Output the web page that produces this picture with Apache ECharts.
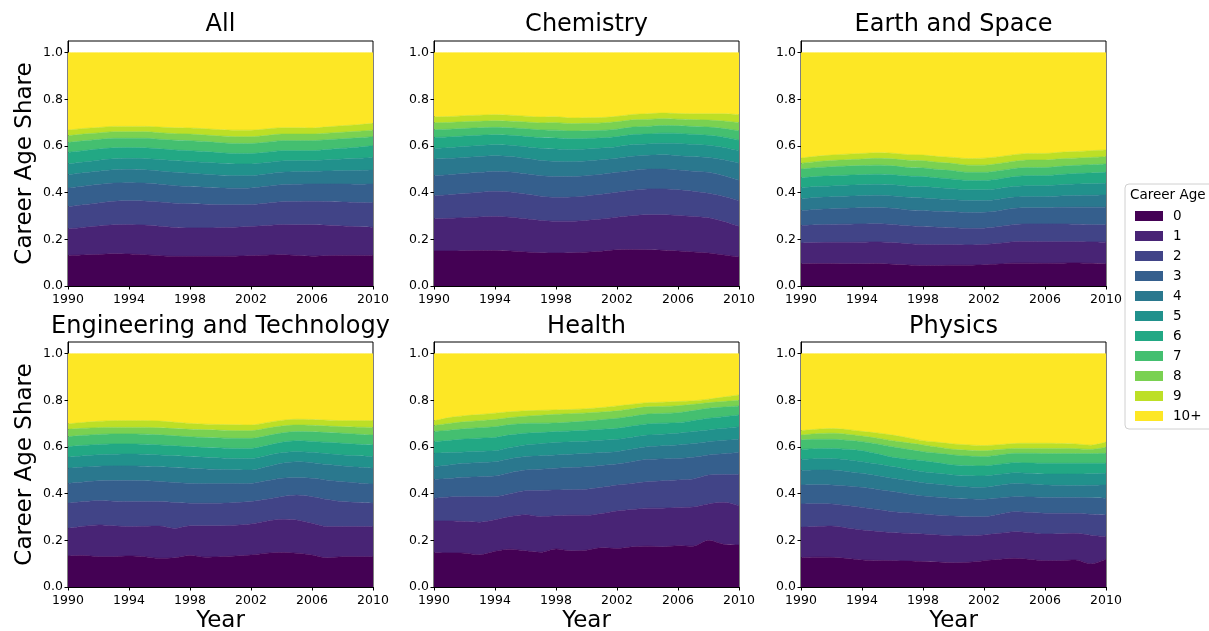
<!DOCTYPE html>
<html><head><meta charset="utf-8">
<script src="https://cdn.jsdelivr.net/npm/echarts@6/dist/echarts.min.js"></script>
<style>html,body{margin:0;padding:0;background:#fff}#c{width:1209px;height:631px}</style>
</head><body><div id="c"></div>
<script>
const years = ['1990','1991','1992','1993','1994','1995','1996','1997','1998','1999','2000','2001','2002','2003','2004','2005','2006','2007','2008','2009','2010'];
const ageGroups = ['0','1','2','3','4','5','6','7','8','9','10+'];
const yTickValues = [0, 0.2, 0.4, 0.6, 0.8, 1.0];
const panelTitles = ['All','Chemistry','Earth and Space','Engineering and Technology','Health','Physics'];

// share of each career age group per year (rows: age 0..9, 10+)
const shareAll = [
 [.131,.133,.135,.138,.137,.134,.130,.127,.127,.127,.127,.128,.130,.132,.134,.131,.128,.130,.131,.131,.131],
 [.114,.118,.122,.124,.126,.127,.126,.124,.122,.122,.123,.124,.125,.127,.129,.131,.134,.130,.126,.123,.121],
 [.095,.097,.099,.101,.102,.103,.104,.104,.103,.101,.098,.096,.094,.096,.098,.100,.101,.102,.103,.104,.105],
 [.080,.080,.079,.078,.078,.077,.076,.075,.074,.073,.072,.071,.071,.072,.073,.074,.074,.075,.077,.078,.080],
 [.057,.057,.057,.057,.057,.057,.057,.057,.057,.056,.055,.054,.053,.053,.054,.054,.054,.056,.057,.059,.060],
 [.046,.046,.047,.047,.047,.048,.049,.050,.051,.051,.051,.050,.050,.049,.048,.047,.046,.048,.050,.052,.054],
 [.050,.049,.048,.047,.046,.046,.046,.046,.046,.046,.045,.045,.045,.044,.044,.043,.043,.044,.046,.048,.050],
 [.042,.042,.041,.041,.040,.041,.041,.042,.043,.043,.043,.043,.043,.043,.043,.043,.043,.042,.041,.040,.039],
 [.029,.029,.028,.028,.028,.028,.028,.028,.028,.028,.029,.029,.029,.029,.028,.028,.028,.028,.028,.028,.028],
 [.024,.024,.023,.023,.023,.023,.024,.025,.026,.027,.027,.028,.028,.028,.027,.027,.026,.027,.028,.028,.029],
 [.332,.325,.321,.316,.316,.316,.319,.322,.323,.326,.330,.332,.332,.327,.322,.322,.323,.318,.313,.309,.303]
];
const shareChemistry = [
 [.150,.150,.151,.152,.152,.150,.146,.142,.141,.142,.145,.149,.155,.156,.155,.153,.150,.146,.141,.133,.124],
 [.138,.140,.142,.144,.146,.145,.142,.139,.137,.136,.136,.138,.140,.145,.150,.152,.152,.152,.151,.143,.131],
 [.099,.101,.103,.106,.108,.108,.106,.104,.102,.103,.105,.106,.107,.109,.111,.111,.110,.108,.105,.108,.111],
 [.086,.086,.086,.085,.085,.086,.087,.088,.089,.088,.087,.086,.085,.085,.085,.085,.085,.086,.090,.088,.086],
 [.071,.070,.069,.068,.067,.066,.066,.065,.065,.064,.063,.062,.061,.061,.059,.061,.061,.062,.064,.069,.074],
 [.046,.046,.047,.047,.047,.048,.050,.052,.053,.052,.051,.050,.049,.050,.049,.050,.053,.053,.052,.053,.054],
 [.047,.046,.045,.044,.043,.043,.044,.046,.047,.046,.045,.044,.043,.043,.042,.043,.043,.043,.043,.044,.045],
 [.033,.033,.032,.032,.032,.032,.033,.033,.034,.033,.033,.032,.032,.032,.033,.033,.033,.034,.035,.037,.040],
 [.030,.029,.029,.028,.028,.028,.029,.030,.032,.032,.032,.032,.032,.031,.030,.029,.028,.029,.030,.032,.035],
 [.025,.025,.026,.026,.026,.026,.025,.025,.025,.024,.024,.023,.023,.023,.024,.024,.024,.025,.027,.031,.034],
 [.275,.274,.270,.268,.266,.268,.272,.276,.275,.280,.279,.278,.273,.265,.262,.259,.261,.262,.262,.262,.266]
];
const shareEarthSpace = [
 [.095,.096,.096,.095,.095,.096,.093,.090,.088,.088,.089,.089,.091,.094,.098,.098,.097,.098,.099,.097,.095],
 [.089,.090,.091,.092,.093,.093,.093,.091,.090,.089,.088,.087,.087,.089,.092,.093,.093,.092,.091,.092,.093],
 [.075,.076,.077,.078,.078,.078,.078,.077,.077,.075,.073,.071,.070,.072,.074,.075,.076,.076,.075,.074,.074],
 [.064,.066,.067,.068,.069,.069,.069,.068,.068,.068,.068,.068,.068,.068,.069,.069,.069,.071,.073,.075,.076],
 [.050,.051,.051,.052,.052,.053,.053,.054,.054,.053,.052,.051,.050,.049,.048,.048,.048,.049,.050,.051,.052],
 [.047,.047,.047,.047,.047,.047,.048,.048,.049,.048,.047,.046,.046,.046,.046,.047,.047,.048,.049,.049,.050],
 [.043,.043,.043,.043,.043,.043,.043,.043,.043,.042,.041,.040,.040,.041,.042,.043,.043,.044,.045,.046,.047],
 [.038,.038,.039,.039,.039,.039,.038,.037,.037,.036,.036,.035,.035,.035,.035,.035,.035,.035,.035,.036,.036],
 [.025,.026,.027,.027,.028,.029,.030,.031,.031,.031,.031,.031,.031,.031,.031,.032,.032,.032,.031,.031,.031],
 [.022,.023,.023,.024,.024,.024,.024,.024,.024,.025,.026,.028,.030,.029,.028,.028,.028,.028,.028,.029,.029],
 [.452,.444,.439,.435,.432,.429,.431,.437,.439,.445,.449,.454,.452,.446,.437,.432,.432,.427,.424,.420,.417]
];
const shareEngineering = [
 [.133,.135,.130,.130,.133,.130,.123,.125,.135,.128,.130,.133,.137,.145,.148,.145,.137,.125,.130,.130,.130],
 [.118,.125,.136,.132,.126,.130,.138,.126,.127,.134,.132,.132,.133,.137,.142,.142,.136,.134,.129,.129,.129],
 [.108,.106,.104,.106,.107,.106,.105,.111,.097,.097,.097,.097,.096,.094,.097,.107,.114,.116,.107,.103,.100],
 [.085,.084,.085,.088,.090,.089,.086,.086,.085,.084,.084,.081,.078,.079,.079,.074,.079,.083,.085,.084,.082],
 [.065,.064,.063,.063,.063,.063,.063,.064,.065,.063,.061,.059,.057,.060,.064,.069,.067,.067,.068,.068,.068],
 [.047,.048,.049,.050,.051,.051,.051,.050,.050,.050,.049,.049,.050,.048,.045,.043,.044,.046,.047,.048,.050],
 [.045,.045,.044,.044,.043,.043,.043,.043,.042,.042,.043,.043,.043,.043,.045,.047,.047,.049,.050,.050,.050],
 [.043,.043,.043,.043,.043,.043,.043,.043,.043,.043,.043,.043,.043,.042,.040,.039,.041,.042,.043,.043,.042],
 [.032,.030,.029,.028,.028,.029,.030,.031,.032,.033,.033,.033,.033,.032,.030,.028,.028,.028,.028,.030,.033],
 [.023,.025,.027,.029,.029,.029,.029,.027,.025,.024,.024,.025,.024,.024,.024,.025,.025,.025,.026,.028,.029],
 [.301,.295,.290,.287,.287,.287,.289,.294,.299,.302,.304,.305,.306,.296,.286,.281,.282,.285,.287,.287,.287]
];
const shareHealth = [
 [.147,.146,.145,.138,.153,.162,.155,.149,.163,.155,.158,.168,.165,.172,.175,.172,.177,.175,.200,.183,.180],
 [.136,.137,.136,.140,.135,.140,.155,.153,.142,.153,.149,.147,.161,.160,.163,.166,.164,.168,.156,.180,.168],
 [.097,.103,.106,.109,.100,.098,.103,.112,.111,.109,.112,.112,.111,.112,.113,.117,.118,.120,.124,.119,.134],
 [.081,.079,.083,.086,.088,.090,.088,.091,.093,.095,.096,.094,.090,.093,.096,.094,.092,.093,.086,.089,.094],
 [.055,.058,.060,.061,.061,.060,.058,.057,.057,.057,.057,.055,.053,.054,.054,.056,.058,.059,.057,.057,.057],
 [.057,.053,.049,.048,.047,.048,.050,.052,.053,.053,.053,.053,.053,.051,.050,.050,.050,.051,.050,.052,.054],
 [.050,.052,.055,.056,.057,.054,.050,.048,.047,.047,.047,.047,.047,.048,.048,.047,.045,.047,.050,.050,.050],
 [.043,.044,.044,.045,.046,.044,.042,.040,.037,.038,.039,.041,.043,.042,.042,.042,.043,.043,.043,.041,.039],
 [.026,.029,.030,.030,.031,.030,.031,.034,.037,.036,.035,.033,.032,.032,.031,.030,.030,.027,.024,.024,.024],
 [.020,.025,.026,.026,.027,.025,.023,.021,.019,.018,.018,.019,.021,.019,.018,.018,.018,.015,.015,.019,.023],
 [.288,.274,.266,.261,.255,.249,.245,.243,.241,.239,.236,.231,.224,.217,.210,.208,.205,.202,.195,.186,.177]
];
const sharePhysics = [
 [.126,.128,.127,.122,.116,.114,.113,.111,.109,.107,.104,.106,.113,.118,.123,.118,.113,.113,.116,.099,.119],
 [.130,.131,.134,.131,.128,.124,.120,.119,.118,.116,.115,.114,.110,.112,.114,.115,.114,.115,.114,.123,.097],
 [.100,.098,.095,.096,.097,.094,.090,.088,.086,.085,.085,.081,.078,.082,.086,.087,.089,.088,.086,.090,.093],
 [.081,.081,.081,.084,.086,.086,.086,.081,.077,.077,.076,.076,.075,.069,.064,.066,.068,.068,.068,.070,.071],
 [.062,.063,.064,.062,.060,.059,.057,.057,.057,.055,.053,.052,.051,.055,.057,.055,.053,.052,.051,.054,.057],
 [.048,.049,.050,.050,.050,.050,.050,.049,.047,.047,.047,.048,.049,.047,.046,.046,.047,.048,.049,.049,.050],
 [.043,.043,.043,.045,.047,.044,.040,.043,.047,.045,.043,.043,.043,.043,.043,.044,.046,.046,.046,.045,.043],
 [.040,.040,.039,.039,.039,.042,.045,.042,.039,.041,.043,.041,.040,.040,.040,.042,.042,.042,.042,.042,.043],
 [.021,.024,.026,.026,.024,.025,.026,.028,.029,.026,.024,.025,.025,.023,.021,.021,.022,.022,.021,.018,.026],
 [.019,.019,.020,.020,.020,.022,.024,.022,.018,.021,.023,.023,.022,.021,.021,.022,.022,.021,.020,.018,.022],
 [.330,.324,.321,.325,.333,.340,.349,.360,.373,.380,.387,.391,.394,.390,.385,.384,.384,.385,.387,.392,.379]
];

const panelShares = [shareAll, shareChemistry, shareEarthSpace, shareEngineering, shareHealth, sharePhysics];
const viridis = ['#440154','#482475','#414487','#355f8d','#2a788e','#21918c','#22a884','#44bf70','#7ad151','#bddf26','#fde725'];
const FONT = 'DejaVu Sans';
const colLeft = [68, 434, 801];
const rowTop = [41, 342];
const GW = 305, GH = 245;

const grids = [], xAxes = [], yAxes = [], titles = [], series = [];
for (let i = 0; i < 6; i++) {
  const col = i % 3, row = Math.floor(i / 3);
  grids.push({left: colLeft[col], top: rowTop[row], width: GW, height: GH,
    outerBoundsMode: 'none', containLabel: false,
    show: true, borderColor: '#000', borderWidth: 1, backgroundColor: 'transparent'});
  xAxes.push({type: 'category', gridIndex: i, data: years, boundaryGap: false,
    axisLine: {show: true, lineStyle: {color: '#000', width: 1}},
    axisTick: {show: true, interval: 3, length: 3.5, lineStyle: {color: '#000'}},
    axisLabel: {interval: 3, margin: 7, color: '#000', fontFamily: FONT, fontSize: 12.5},
    splitLine: {show: false},
    name: row === 1 ? 'Year' : '', nameLocation: 'middle', nameGap: 23,
    nameTextStyle: {fontFamily: FONT, fontSize: 23, color: '#000'}});
  yAxes.push({type: 'value', gridIndex: i, min: 0, max: 1.05,
    axisLine: {show: true, lineStyle: {color: '#000', width: 1}},
    axisTick: {show: true, length: 3.5, customValues: yTickValues, lineStyle: {color: '#000'}},
    axisLabel: {customValues: yTickValues, margin: 5, color: '#000', fontFamily: FONT, fontSize: 12.5,
      formatter: v => Number(v).toFixed(1)},
    splitLine: {show: false},
    name: col === 0 ? 'Career Age Share' : '', nameLocation: 'middle', nameGap: 31,
    nameTextStyle: {fontFamily: FONT, fontSize: 23, color: '#000'}});
  titles.push({text: panelTitles[i], left: colLeft[col] + GW / 2, top: row === 0 ? 13 : 315,
    textAlign: 'center', padding: 0,
    textStyle: {fontFamily: FONT, fontSize: 24, fontWeight: 'normal', color: '#000'}});
  panelShares[i].forEach((vals, a) => {
    series.push({type: 'line', name: ageGroups[a], xAxisIndex: i, yAxisIndex: i, stack: 'panel' + i,
      data: vals, symbol: 'none', showSymbol: false, smooth: 0.3, silent: true,
      lineStyle: {width: 0.6, color: viridis[a]},
      itemStyle: {color: viridis[a]},
      areaStyle: {color: viridis[a], opacity: 1},
      emphasis: {disabled: true}});
  });
}

const chart = echarts.init(document.getElementById('c'), null, {renderer: 'canvas'});
chart.setOption({
  animation: false,
  backgroundColor: '#fff',
  title: titles,
  grid: grids,
  xAxis: xAxes,
  yAxis: yAxes,
  series: series,
  legend: {orient: 'vertical', left: 1135, top: 206, padding: 0, itemGap: 0,
    itemWidth: 28, itemHeight: 10, icon: 'rect', selectedMode: false, data: ageGroups,
    textStyle: {fontFamily: FONT, fontSize: 13.5, color: '#000', lineHeight: 20, padding: [0, 0, 0, 5]}},
  graphic: [
    {type: 'rect', z: 0, shape: {x: 1125, y: 184, width: 95, height: 245, r: 4},
      style: {fill: '#fff', stroke: '#d0d0d0', lineWidth: 1}},
    {type: 'text', z: 5, x: 1130, y: 195,
      style: {text: 'Career Age', font: '13.5px "DejaVu Sans"', fill: '#000', align: 'left', verticalAlign: 'middle'}}
  ]
});
</script>
</body></html>
